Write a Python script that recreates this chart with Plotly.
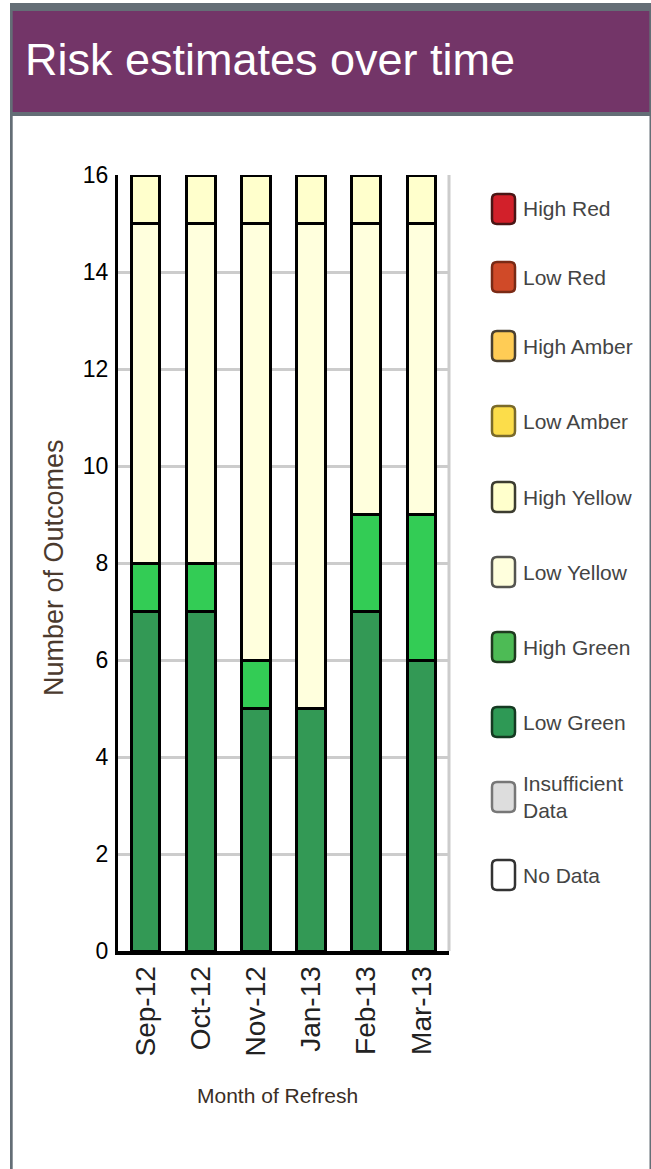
import plotly.graph_objects as go

# ---- data -------------------------------------------------------------
months = ["Sep-12", "Oct-12", "Nov-12", "Jan-13", "Feb-13", "Mar-13"]

no_data = [0, 0, 0, 0, 0, 0]
insufficient_data = [0, 0, 0, 0, 0, 0]
low_green = [7, 7, 5, 5, 7, 6]
high_green = [1, 1, 1, 0, 2, 3]
low_yellow = [7, 7, 9, 10, 6, 6]
high_yellow = [1, 1, 1, 1, 1, 1]
low_amber = [0, 0, 0, 0, 0, 0]
high_amber = [0, 0, 0, 0, 0, 0]
low_red = [0, 0, 0, 0, 0, 0]
high_red = [0, 0, 0, 0, 0, 0]

# stacking order, bottom to top
series_names = ["No Data", "Insufficient Data", "Low Green", "High Green",
                "Low Yellow", "High Yellow", "Low Amber", "High Amber",
                "Low Red", "High Red"]
series_values = [no_data, insufficient_data, low_green, high_green,
                 low_yellow, high_yellow, low_amber, high_amber,
                 low_red, high_red]
bar_colors = ["#FFFFFF", "#DDDDDD", "#339955", "#33CC55",
              "#FFFFDD", "#FFFFCC", "#FFE04A", "#FFCC55",
              "#D04A28", "#D2202A"]

# legend (top to bottom)
legend_labels = ["High Red", "Low Red", "High Amber", "Low Amber",
                 "High Yellow", "Low Yellow", "High Green", "Low Green",
                 "Insufficient<br>Data", "No Data"]
legend_fills = ["#D2202A", "#D04A28", "#FFCC55", "#FCDD4A",
                "#FFFFCC", "#FFFFDD", "#4DBB55", "#2E9955",
                "#DDDDDD", "#FFFFFF"]
legend_edges = ["#4A1515", "#7A2A15", "#4A4030", "#7A6A2A",
                "#3C3C30", "#555550", "#1F3A1F", "#153A22",
                "#777777", "#333333"]

# ---- page geometry (pixels) ------------------------------------------
W, H = 651, 1169
PL, PR, PT, PB = 118, 449, 175, 951


def px(x):
    return (x - PL) / (PR - PL)


def py(y):
    return (PB - y) / (PB - PT)


fig = go.Figure()
for name, vals, col in zip(series_names, series_values, bar_colors):
    fig.add_trace(go.Bar(
        x=months, y=vals, name=name, width=0.52,
        marker=dict(color=col, line=dict(color="#000000", width=3)),
        showlegend=False, hoverinfo="skip",
    ))

shapes = []
annotations = []

# header band with grey frame
shapes.append(dict(type="rect", xref="paper", yref="paper",
                   x0=px(10), x1=px(651), y0=py(116), y1=py(3),
                   fillcolor="#646E76", line=dict(width=0), layer="below"))
shapes.append(dict(type="rect", xref="paper", yref="paper",
                   x0=px(12.7), x1=px(649.3), y0=py(112), y1=py(11),
                   fillcolor="#733568", line=dict(width=0), layer="below"))
shapes.append(dict(type="rect", xref="paper", yref="paper",
                   x0=px(10), x1=px(12.7), y0=py(H), y1=py(116),
                   fillcolor="#646E76", line=dict(width=0), layer="below"))
shapes.append(dict(type="rect", xref="paper", yref="paper",
                   x0=px(649.5), x1=px(651), y0=py(H), y1=py(116),
                   fillcolor="#646E76", line=dict(width=0), layer="below"))
# right-hand frame of the plot area
shapes.append(dict(type="line", xref="paper", yref="paper",
                   x0=1, x1=1, y0=0, y1=1,
                   line=dict(color="#CCCCCC", width=3), layer="below"))

annotations.append(dict(
    text="Risk estimates over time", xref="paper", yref="paper",
    x=px(23), y=py(59), xanchor="left", yanchor="middle", showarrow=False,
    font=dict(family="Liberation Sans, Arial", size=45, color="#FFFFFF"),
))

# legend swatches and labels
legend_y = [209, 277, 346, 421, 497, 572, 647, 722, 797, 875]
sw_x0, sw_x1, sw_h, r = 492, 515, 30, 5
for lab, fill, edge, cy in zip(legend_labels, legend_fills, legend_edges, legend_y):
    y0, y1 = cy + sw_h / 2, cy - sw_h / 2  # pixel rows (bottom, top)
    path = (f"M {px(sw_x0 + r)},{py(y1)} L {px(sw_x1 - r)},{py(y1)} "
            f"Q {px(sw_x1)},{py(y1)} {px(sw_x1)},{py(y1 + r)} "
            f"L {px(sw_x1)},{py(y0 - r)} "
            f"Q {px(sw_x1)},{py(y0)} {px(sw_x1 - r)},{py(y0)} "
            f"L {px(sw_x0 + r)},{py(y0)} "
            f"Q {px(sw_x0)},{py(y0)} {px(sw_x0)},{py(y0 - r)} "
            f"L {px(sw_x0)},{py(y1 + r)} "
            f"Q {px(sw_x0)},{py(y1)} {px(sw_x0 + r)},{py(y1)} Z")
    shapes.append(dict(type="path", xref="paper", yref="paper", path=path,
                       fillcolor=fill, line=dict(color=edge, width=2.5)))
    annotations.append(dict(
        text=lab, xref="paper", yref="paper", x=px(521), y=py(cy),
        xanchor="left", yanchor="middle", align="left", showarrow=False,
        font=dict(family="Liberation Sans, Arial", size=21, color="#444444"),
    ))

# axis titles
annotations.append(dict(
    text="Number of Outcomes", xref="paper", yref="paper",
    x=px(54), y=py(568), textangle=-90, showarrow=False,
    xanchor="center", yanchor="middle",
    font=dict(family="Liberation Sans, Arial", size=27, color="#4B3A2E"),
))
annotations.append(dict(
    text="Month of Refresh", xref="paper", yref="paper",
    x=px(277), y=py(1095), showarrow=False,
    xanchor="center", yanchor="middle",
    font=dict(family="Liberation Sans, Arial", size=21, color="#3A2E25"),
))

fig.update_layout(
    width=W, height=H,
    margin=dict(l=PL, r=W - PR, t=PT, b=H - PB, pad=0),
    barmode="stack",
    paper_bgcolor="#FFFFFF", plot_bgcolor="#FFFFFF",
    shapes=shapes, annotations=annotations,
    showlegend=False,
)
fig.update_xaxes(
    type="category", range=[-0.5, 5.5], tickangle=-90,
    showline=True, linecolor="#000000", linewidth=4,
    showgrid=False, ticks="", ticklabelstandoff=0,
    tickfont=dict(family="Liberation Sans, Arial", size=28, color="#222222"),
)
fig.update_yaxes(
    range=[0, 16], dtick=2, tick0=0,
    showline=True, linecolor="#000000", linewidth=3,
    showgrid=True, gridcolor="#CCCCCC", gridwidth=3, zeroline=False,
    ticks="", ticklabelstandoff=2,
    tickfont=dict(family="Liberation Sans, Arial", size=23, color="#000000"),
)

fig.write_html("out.html", config=dict(displayModeBar=False))
